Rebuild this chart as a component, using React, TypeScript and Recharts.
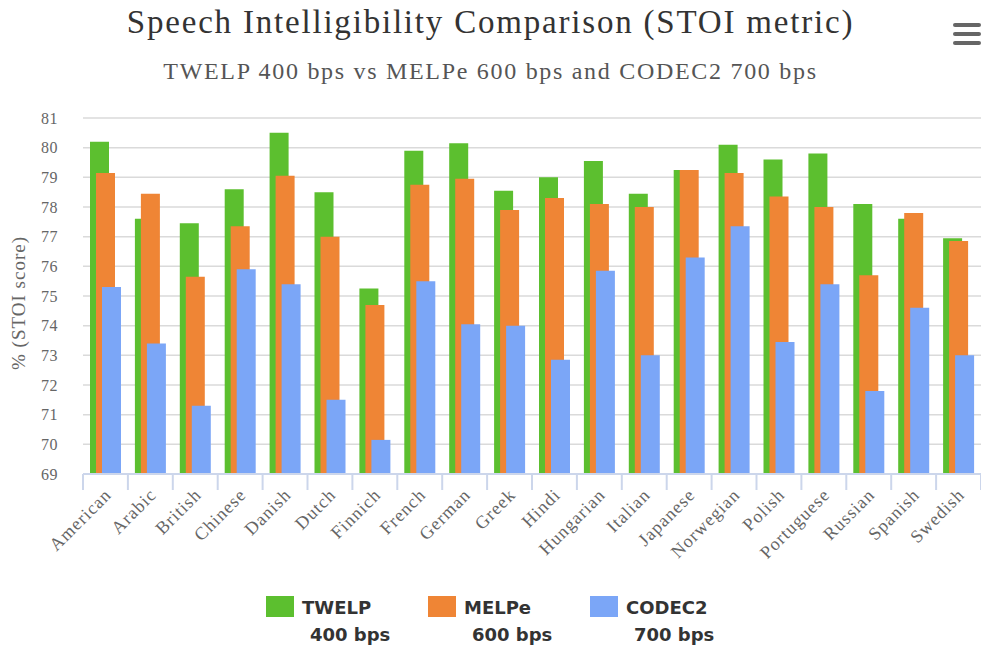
import { BarChart, Bar, XAxis, YAxis, CartesianGrid } from 'recharts'

const languages = [
  'American', 'Arabic', 'British', 'Chinese', 'Danish', 'Dutch', 'Finnich', 'French', 'German', 'Greek',
  'Hindi', 'Hungarian', 'Italian', 'Japanese', 'Norwegian', 'Polish', 'Portuguese', 'Russian', 'Spanish', 'Swedish'
]
const twelp = [80.2, 77.6, 77.45, 78.6, 80.5, 78.5, 75.25, 79.9, 80.15, 78.55, 79.0, 79.55, 78.45, 79.25, 80.1, 79.6, 79.8, 78.1, 77.6, 76.95]
const melpe = [79.15, 78.45, 75.65, 77.35, 79.05, 77.0, 74.7, 78.75, 78.95, 77.9, 78.3, 78.1, 78.0, 79.25, 79.15, 78.35, 78.0, 75.7, 77.8, 76.85]
const codec2 = [75.3, 73.4, 71.3, 75.9, 75.4, 71.5, 70.15, 75.5, 74.05, 74.0, 72.85, 75.85, 73.0, 76.3, 77.35, 73.45, 75.4, 71.8, 74.6, 73.0]
const yTicks = [69, 70, 71, 72, 73, 74, 75, 76, 77, 78, 79, 80, 81]

const series = [
  { key: 'twelp', name: 'TWELP', rate: '400 bps', color: '#5cbf2f' },
  { key: 'melpe', name: 'MELPe', rate: '600 bps', color: '#ef8535' },
  { key: 'codec2', name: 'CODEC2', rate: '700 bps', color: '#7ba6f7' }
]

const data = languages.map((name, i) => ({
  name,
  twelp: twelp[i],
  melpe: melpe[i],
  codec2: codec2[i]
}))

const W = 981
const H = 648
const PLOT_LEFT = 83
const PLOT_TOP = 118
const PLOT_BOTTOM = 474
const BAND = (W - PLOT_LEFT) / languages.length
const serif = '"Liberation Serif", "DejaVu Serif", serif'

function CategoryTick(props: any) {
  const { x, y, payload, index } = props
  const left = x - BAND / 2
  const tx = x + 7
  const ty = y + 22
  return (
    <g>
      <line x1={left} x2={left} y1={y} y2={y + 16} stroke="#ccd6eb" strokeWidth={2} />
      {index === languages.length - 1 && (
        <line x1={x + BAND / 2} x2={x + BAND / 2} y1={y} y2={y + 16} stroke="#ccd6eb" strokeWidth={2} />
      )}
      <text
        x={tx}
        y={ty}
        textAnchor="end"
        transform={`rotate(-45 ${tx} ${ty})`}
        fill="#666"
        fontSize={18}
        letterSpacing={1}
        fontFamily={serif}
      >
        {payload.value}
      </text>
    </g>
  )
}

export default function App() {
  return (
    <div style={{ position: 'absolute', left: 0, top: 0, width: W, height: H, background: '#fff' }}>
      <div style={{ position: 'absolute', left: 0, width: W, top: 4, textAlign: 'center', fontFamily: serif, fontSize: 33, letterSpacing: 1.8, color: '#333' }}>
        Speech Intelligibility Comparison (STOI metric)
      </div>
      <div style={{ position: 'absolute', left: 0, width: W, top: 58, textAlign: 'center', fontFamily: serif, fontSize: 24, letterSpacing: 1.7, color: '#555' }}>
        TWELP 400 bps vs MELPe 600 bps and CODEC2 700 bps
      </div>
      <svg style={{ position: 'absolute', left: 953, top: 21 }} width={28} height={24}>
        {[2, 11, 20].map(t => (
          <rect key={t} x={0} y={t} width={28} height={4} rx={2} fill="#666" />
        ))}
      </svg>
      <div
        style={{
          position: 'absolute',
          left: 19,
          top: 303,
          transform: 'translate(-50%, -50%) rotate(-90deg)',
          whiteSpace: 'nowrap',
          fontFamily: serif,
          fontSize: 19,
          letterSpacing: 1,
          color: '#666'
        }}
      >
        % (STOI score)
      </div>

      <BarChart
        width={W}
        height={H}
        data={data}
        margin={{ top: PLOT_TOP, right: 0, bottom: 0, left: 0 }}
        barSize={19}
        barGap={-13}
      >
        <CartesianGrid horizontal vertical={false} stroke="#dadada" strokeWidth={1.5} />
        <XAxis
          dataKey="name"
          interval={0}
          height={H - PLOT_BOTTOM}
          tickSize={0}
          tickMargin={0}
          tickLine={false}
          axisLine={{ stroke: '#ccd6eb', strokeWidth: 2 }}
          tick={<CategoryTick />}
        />
        <YAxis
          width={PLOT_LEFT}
          domain={[69, 81]}
          ticks={yTicks}
          interval={0}
          axisLine={false}
          tickLine={false}
          tickSize={0}
          tickMargin={25}
          tick={{ fill: '#666', fontSize: 16, fontFamily: serif, letterSpacing: 0.5 }}
        />
        {series.map(s => (
          <Bar key={s.key} dataKey={s.key} fill={s.color} isAnimationActive={false} />
        ))}
      </BarChart>

      <div style={{ position: 'absolute', top: 596, left: 0, width: W, height: 52 }}>
        {series.map((s, i) => (
          <div key={s.key} style={{ position: 'absolute', left: 266 + i * 162, top: 0 }}>
            <div style={{ position: 'absolute', left: 0, top: 0, width: 28, height: 21, background: s.color }} />
            <div
              style={{
                position: 'absolute',
                left: 36,
                top: -2,
                fontFamily: '"DejaVu Sans", sans-serif',
                fontWeight: 'bold',
                fontSize: 18,
                lineHeight: '27px',
                color: '#333',
                whiteSpace: 'nowrap'
              }}
            >
              <div>{s.name}</div>
              <div style={{ paddingLeft: 8 }}>{s.rate}</div>
            </div>
          </div>
        ))}
      </div>
    </div>
  )
}
